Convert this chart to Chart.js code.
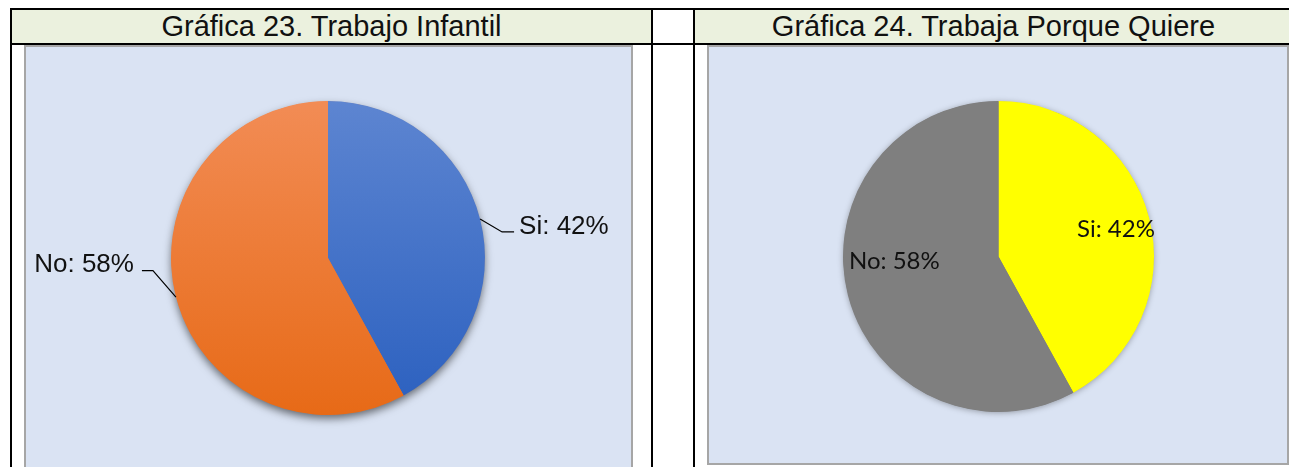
<!DOCTYPE html>
<html>
<head>
<meta charset="utf-8">
<script src="https://cdn.jsdelivr.net/npm/chart.js@4.4.1/dist/chart.umd.min.js"></script>
<style>
  html, body { margin:0; padding:0; width:1289px; height:467px; overflow:hidden; background:#fff; }
  .abs { position:absolute; box-sizing:border-box; }
  .hdr { font-family:"Liberation Sans", Arial, sans-serif; font-size:29px; color:#111; text-align:center; white-space:nowrap; line-height:34px; }
</style>
</head>
<body>
<!-- header backgrounds -->
<div class="abs" style="left:12px;top:10px;width:639px;height:33px;background:#EBF1DE;"></div>
<div class="abs" style="left:695px;top:10px;width:600px;height:33px;background:#EBF1DE;"></div>
<!-- chart boxes -->
<div class="abs" style="left:24px;top:45px;width:609px;height:440px;background:#DAE3F3;border:2px solid #A6A6A6;"></div>
<div class="abs" style="left:707px;top:45px;width:582px;height:420px;background:#DAE3F3;border:2px solid #A6A6A6;"></div>
<!-- table lines -->
<div class="abs" style="left:10px;top:8px;width:1290px;height:2px;background:#000;"></div>
<div class="abs" style="left:10px;top:43px;width:1290px;height:2px;background:#000;"></div>
<div class="abs" style="left:10px;top:8px;width:2px;height:470px;background:#000;"></div>
<div class="abs" style="left:651px;top:8px;width:2px;height:470px;background:#000;"></div>
<div class="abs" style="left:693px;top:8px;width:2px;height:470px;background:#000;"></div>
<!-- header titles -->
<div class="abs hdr" id="t1" style="left:12px;top:9px;width:639px;height:34px;"></div>
<div class="abs hdr" id="t2" style="left:695px;top:9px;width:597px;height:34px;"></div>

<div class="abs" style="left:25px;top:46px;width:607px;height:421px;"><canvas id="c1"></canvas></div>
<div class="abs" style="left:708px;top:46px;width:580px;height:418px;"><canvas id="c2"></canvas></div>

<script>
// ---- data ----
const titles = ['Gráfica 23. Trabajo Infantil', 'Gráfica 24. Trabaja Porque Quiere'];
const categories = ['Si', 'No'];
const trabajoInfantil = [42, 58];
const trabajaPorqueQuiere = [42, 58];

document.getElementById('t1').textContent = titles[0];
document.getElementById('t2').textContent = titles[1];

// shadow under the whole pie (drawn once, before slices)
const pieShadow = {
  id: 'pieShadow',
  beforeDatasetsDraw(chart, args, opts) {
    const arcs = chart.getDatasetMeta(0).data;
    if (!arcs.length) return;
    const a = arcs[0];
    const ctx = chart.ctx;
    ctx.save();
    ctx.shadowColor = opts.color;
    ctx.shadowBlur = opts.blur;
    ctx.shadowOffsetX = 0;
    ctx.shadowOffsetY = opts.offsetY;
    ctx.fillStyle = opts.fill;
    ctx.beginPath();
    ctx.arc(a.x, a.y, a.outerRadius - 0.5, 0, Math.PI * 2);
    ctx.fill();
    ctx.restore();
  }
};

// data labels
const pieLabels = {
  id: 'pieLabels',
  afterDatasetsDraw(chart, args, opts) {
    const meta = chart.getDatasetMeta(0);
    const ds = chart.data.datasets[0];
    const ctx = chart.ctx;
    ctx.save();
    ctx.font = opts.font;
    ctx.fillStyle = opts.color;
    ctx.strokeStyle = opts.lineColor || '#000';
    ctx.lineWidth = 1.2;
    meta.data.forEach((arc, i) => {
      const txt = chart.data.labels[i] + ': ' + ds.data[i] + '%';
      const mid = (arc.startAngle + arc.endAngle) / 2;
      const r = arc.outerRadius;
      const p = opts.place[i];
      if (opts.mode === 'outside') {
        const ex = arc.x + Math.cos(mid) * r;
        const ey = arc.y + Math.sin(mid) * r;
        const elx = ex + p.elbow[0], ely = ey + p.elbow[1];
        ctx.beginPath();
        ctx.moveTo(ex, ey);
        ctx.lineTo(elx, ely);
        ctx.lineTo(ex + p.lineEnd, ely);
        ctx.stroke();
        ctx.textAlign = p.align;
        ctx.textBaseline = 'alphabetic';
        ctx.fillText(txt, ex + p.text[0], ey + p.text[1]);
      } else {
        const ang = mid + p.shift * Math.PI / 180;
        const cx = arc.x + Math.cos(ang) * r * p.frac;
        const cy = arc.y + Math.sin(ang) * r * p.frac;
        ctx.textAlign = 'center';
        ctx.textBaseline = 'alphabetic';
        ctx.fillText(txt, cx, cy + opts.capHalf);
      }
    });
    ctx.restore();
  }
};

function grad(chart, top, bottom) {
  const area = chart.chartArea;
  if (!area) return top;
  const g = chart.ctx.createLinearGradient(0, area.top, 0, area.bottom);
  g.addColorStop(0, top);
  g.addColorStop(1, bottom);
  return g;
}

new Chart(document.getElementById('c1'), {
  type: 'pie',
  data: {
    labels: categories,
    datasets: [{
      data: trabajoInfantil,
      borderWidth: 0,
      backgroundColor: (c) => c.dataIndex === 0
        ? grad(c.chart, '#5D85D1', '#2B60BF')
        : grad(c.chart, '#F28C55', '#E76A17')
    }]
  },
  options: {
    responsive: true,
    maintainAspectRatio: false,
    animation: false,
    layout: { padding: { left: 146, right: 147, top: 55, bottom: 52 } },
    plugins: {
      legend: { display: false },
      tooltip: { enabled: false },
      pieShadow: { color: 'rgba(0,0,0,0.55)', blur: 9, offsetY: 4, fill: '#E8732A' },
      pieLabels: {
        mode: 'outside',
        font: '26px "Liberation Sans", Arial, sans-serif',
        color: '#111',
        place: [
          { elbow: [22, 13], lineEnd: 34, text: [39, 15], align: 'left' },
          { elbow: [-23, -26.5], lineEnd: -34, text: [-42, -25.5], align: 'right' }
        ]
      }
    }
  },
  plugins: [pieShadow, pieLabels]
});

new Chart(document.getElementById('c2'), {
  type: 'pie',
  data: {
    labels: categories,
    datasets: [{
      data: trabajaPorqueQuiere,
      borderWidth: 0,
      backgroundColor: ['#FFFF00', '#7F7F7F']
    }]
  },
  options: {
    responsive: true,
    maintainAspectRatio: false,
    animation: false,
    layout: { padding: { left: 135, right: 134, top: 55, bottom: 52 } },
    plugins: {
      legend: { display: false },
      tooltip: { enabled: false },
      pieShadow: { color: 'rgba(0,0,0,0.35)', blur: 6, offsetY: 1, fill: '#7F7F7F' },
      pieLabels: {
        mode: 'inside',
        font: '24px Lato, "Open Sans", sans-serif',
        color: '#111',
        capHalf: 8.5,
        place: [
          { frac: 0.776, shift: 1.2 },
          { frac: 0.67, shift: 12.4 }
        ]
      }
    }
  },
  plugins: [pieShadow, pieLabels]
});
</script>
</body>
</html>
